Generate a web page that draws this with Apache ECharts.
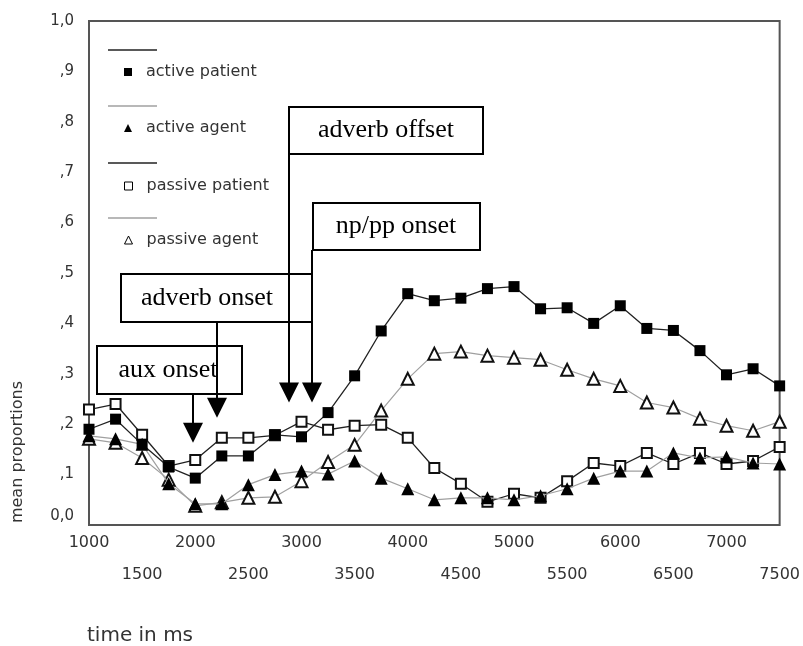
<!DOCTYPE html>
<html><head><meta charset="utf-8">
<script src="https://cdn.jsdelivr.net/npm/echarts@6/dist/echarts.min.js"></script>
<style>html,body{margin:0;padding:0;background:#fff}#c{width:803px;height:646px}</style>
</head><body><div id="c"></div>
<script>
// ---- data ----
const times = [1000,1250,1500,1750,2000,2250,2500,2750,3000,3250,3500,3750,4000,4250,4500,4750,5000,5250,5500,5750,6000,6250,6500,6750,7000,7250,7500];
const activePatient  = [0.19,0.21,0.16,0.115,0.093,0.137,0.137,0.179,0.175,0.223,0.296,0.385,0.459,0.445,0.45,0.469,0.473,0.429,0.431,0.40,0.435,0.39,0.386,0.346,0.298,0.31,0.276];
const activeAgent    = [0.177,0.171,0.16,0.082,0.042,0.042,0.08,0.1,0.107,0.101,0.127,0.093,0.072,0.05,0.054,0.054,0.05,0.058,0.072,0.093,0.107,0.107,0.143,0.133,0.135,0.123,0.121];
const passivePatient = [0.229,0.24,0.179,0.117,0.129,0.173,0.173,0.178,0.205,0.189,0.197,0.199,0.173,0.113,0.082,0.046,0.062,0.054,0.087,0.123,0.117,0.143,0.121,0.143,0.121,0.127,0.155];
const passiveAgent   = [0.171,0.163,0.133,0.09,0.038,0.045,0.054,0.056,0.087,0.125,0.159,0.227,0.29,0.34,0.344,0.336,0.332,0.328,0.308,0.29,0.276,0.243,0.233,0.211,0.197,0.187,0.205];
const seriesNames = ['active patient','active agent','passive patient','passive agent'];
const yTickLabels = ['0,0',',1',',2',',3',',4',',5',',6',',7',',8',',9','1,0'];
const annotationLabels = ['aux onset','adverb onset','adverb offset','np/pp onset'];
const annotationTimes  = [1980, 2200, 2880, 3100];
const annotationTips   = [0.163, 0.213, 0.243, 0.243];
const xAxisTitle = 'time in ms';
const yAxisTitle = 'mean proportions';

// ---- styling / layout ----
const sans = 'DejaVu Sans';
const seriesStyle = [
  {symbol:'rect', symbolSize:11, item:'#000', line:'#222', lw:1.3, z:6},
  {symbol:'triangle', symbolSize:13, item:'#000', line:'#a0a0a0', lw:1.2, z:5},
  {symbol:'emptyRect', symbolSize:10, item:'#111', line:'#222', lw:1.3, z:4},
  {symbol:'emptyTriangle', symbolSize:12, item:'#111', line:'#a0a0a0', lw:1.2, z:3}
];
const legendLayout = [ {iconY:72, lineY:50}, {iconY:128, lineY:106}, {iconY:186, lineY:163}, {iconY:240, lineY:218} ];
const legendIcons = [
  {icon:'rect', itemStyle:{color:'#000'}},
  {icon:'triangle', itemStyle:{color:'#000'}},
  {icon:'rect', itemStyle:{color:'#fff', borderColor:'#000', borderWidth:1}},
  {icon:'triangle', itemStyle:{color:'#fff', borderColor:'#000', borderWidth:1}}
];
const boxLayout = [
  {x:97, y:346, w:145, h:48, tx:168},
  {x:121, y:274, w:191, h:48, tx:207},
  {x:289, y:107, w:194, h:47, tx:386},
  {x:313, y:203, w:167, h:47, tx:396}
];

const chart = echarts.init(document.getElementById('c'), null, {renderer:'canvas'});
const dataSets = [activePatient, activeAgent, passivePatient, passiveAgent];

const option = {
  animation:false,
  backgroundColor:'#fff',
  grid:{left:89, right:23, top:21, bottom:121, show:true, borderColor:'#555', borderWidth:2, backgroundColor:'transparent'},
  xAxis:{
    type:'value', min:1000, max:7500, interval:500,
    axisLine:{show:false}, axisTick:{show:false}, splitLine:{show:false},
    axisLabel:{
      margin:2, fontFamily:sans, fontSize:16, color:'#333', lineHeight:32,
      formatter:function(v){ return (v % 1000 === 0) ? String(v) : '\n' + v; }
    }
  },
  yAxis:{
    type:'value', min:0, max:1, interval:0.1,
    axisLine:{show:false}, axisTick:{show:false}, splitLine:{show:false},
    axisLabel:{
      margin:15, fontFamily:sans, fontSize:15, color:'#333',
      formatter:function(v){ const s = yTickLabels[Math.round(v*10)]; return v === 0 ? '{z|' + s + '}' : s; },
      rich:{ z:{fontFamily:sans, fontSize:15, color:'#333', padding:[0,0,18,0]} }
    }
  },
  legend: seriesNames.map(function(n,i){
    return {
      left:124, top:legendLayout[i].iconY - 17, padding:0, itemWidth:8, itemHeight:8,
      selectedMode:false,
      data:[Object.assign({name:n}, legendIcons[i])],
      textStyle:{fontFamily:sans, fontSize:16, color:'#333', lineHeight:16, padding:[18,0,0,9]}
    };
  }),
  series: seriesNames.map(function(n,i){
    const st = seriesStyle[i];
    return {
      name:n, type:'line',
      data: times.map(function(t,j){ return [t, dataSets[i][j]]; }),
      symbol:st.symbol, symbolSize:st.symbolSize, showAllSymbol:true,
      itemStyle:{color:st.item, borderWidth:1.2},
      lineStyle:{color:st.line, width:st.lw},
      z: st.z
    };
  })
};
chart.setOption(option);

// annotations & titles
const g = [];
legendLayout.forEach(function(l,i){
  g.push({type:'line', shape:{x1:108, y1:l.lineY, x2:157, y2:l.lineY}, style:{stroke:seriesStyle[i].line, lineWidth:1.6}, z:10});
});
annotationLabels.forEach(function(lbl,i){
  const b = boxLayout[i];
  g.push({type:'rect', shape:{x:b.x, y:b.y, width:b.w, height:b.h}, style:{fill:'#fff', stroke:'#000', lineWidth:2}, z:20});
  g.push({type:'text', x:b.tx, y:b.y + b.h/2, style:{text:lbl, font:'26px "Liberation Serif"', fill:'#000', align:'center', verticalAlign:'middle'}, z:21});
});
annotationLabels.forEach(function(lbl,i){
  const b = boxLayout[i];
  const ax = Math.round(chart.convertToPixel({xAxisIndex:0}, annotationTimes[i]));
  const tip = chart.convertToPixel({yAxisIndex:0}, annotationTips[i]);
  g.push({type:'line', shape:{x1:ax, y1:b.y + b.h, x2:ax, y2:tip - 18}, style:{stroke:'#000', lineWidth:2}, z:22});
  g.push({type:'polygon', shape:{points:[[ax-10, tip-20],[ax+10, tip-20],[ax, tip]]}, style:{fill:'#000'}, z:22});
});
g.push({type:'text', x:18, y:452, rotation:Math.PI/2, style:{text:yAxisTitle, font:'16px "DejaVu Sans"', fill:'#333', align:'center', verticalAlign:'middle'}, z:10});
g.push({type:'text', x:87, y:636, style:{text:xAxisTitle, font:'20px "DejaVu Sans"', fill:'#333', align:'left', verticalAlign:'middle'}, z:10});
chart.setOption({graphic: g});
</script>
</body></html>
